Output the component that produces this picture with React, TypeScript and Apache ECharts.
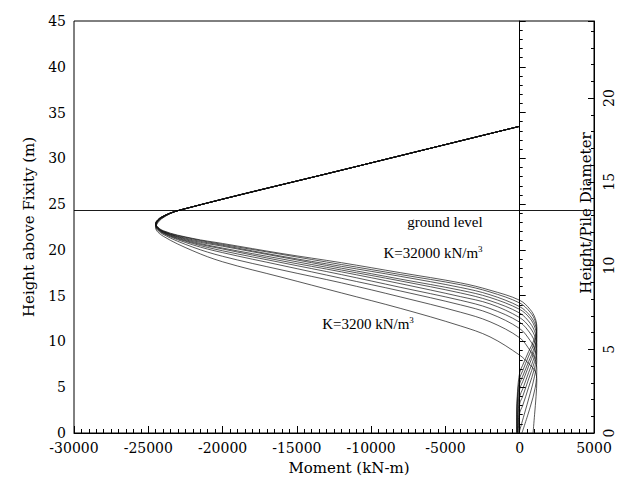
import React, { useEffect, useRef } from "react";
import * as echarts from "echarts";

// Above-ground part shared by all curves: [moment kN-m, height m]
const aboveGround: number[][] = [
  [0, 33.5],
  [-11435, 28.93],
  [-22870, 24.35],
];

// Below-ground parts, one per subgrade modulus (kN/m3)
const k32000: number[][] = [[-24100,23.6],[-24500,22.9],[-24000,22.1],[-22000,21.25],[-20000,20.7],[-16000,19.6],[-12000,18.6],[-8000,17.5],[-4000,16.4],[-2000,15.6],[0,14.5],[700,13.5],[1050,12.5],[1150,11.5],[1000,10.3],[600,8.9],[200,7.4],[0,6.6],[-150,4.5],[-200,2.0],[-200,0]];
const k28800: number[][] = [[-24100,23.6],[-24500,22.9],[-24000,22.05],[-22000,21.2],[-20000,20.6],[-16000,19.5],[-12000,18.4],[-8000,17.3],[-4000,16.2],[-2000,15.4],[0,14.2],[700,13.2],[1050,12.2],[1150,11.1],[1000,9.9],[600,8.4],[200,6.8],[0,6.0],[-150,4.0],[-200,1.8],[-200,0]];
const k25600: number[][] = [[-24100,23.6],[-24500,22.85],[-24000,22.0],[-22000,21.1],[-20000,20.5],[-16000,19.3],[-12000,18.2],[-8000,17.1],[-4000,15.9],[-2000,15.1],[0,13.8],[700,12.8],[1050,11.8],[1150,10.7],[1000,9.4],[600,7.8],[200,6.2],[0,5.4],[-150,3.4],[-180,1.5],[-180,0]];
const k22400: number[][] = [[-24100,23.6],[-24500,22.8],[-24000,22.0],[-22000,21.0],[-20000,20.4],[-16000,19.2],[-12000,18.0],[-8000,16.8],[-4000,15.6],[-2000,14.8],[0,13.5],[700,12.5],[1050,11.4],[1150,10.3],[1000,9.0],[600,7.3],[200,5.6],[0,4.8],[-120,2.8],[-160,1.2],[-160,0]];
const k19200: number[][] = [[-24100,23.55],[-24500,22.8],[-24000,21.95],[-22000,20.9],[-20000,20.2],[-16000,19.0],[-12000,17.8],[-8000,16.6],[-4000,15.3],[-2000,14.45],[0,13.1],[700,12.0],[1050,10.9],[1150,9.8],[1000,8.4],[600,6.6],[200,4.8],[0,4.0],[-100,2.2],[-150,0]];
const k16000: number[][] = [[-24100,23.55],[-24500,22.75],[-24000,21.9],[-22000,20.8],[-20000,20.1],[-16000,18.8],[-12000,17.6],[-8000,16.3],[-4000,14.9],[-2000,14.1],[0,12.6],[700,11.5],[1050,10.4],[1150,9.3],[1000,7.8],[600,5.9],[200,4.0],[0,3.2],[-120,0]];
const k12800: number[][] = [[-24100,23.5],[-24500,22.7],[-24000,21.85],[-22000,20.7],[-20000,19.9],[-16000,18.6],[-12000,17.3],[-8000,15.9],[-4000,14.5],[-2000,13.6],[0,12.1],[700,10.9],[1050,9.8],[1150,8.7],[1000,7.1],[600,5.0],[200,3.0],[0,2.2],[-100,0]];
const k9600: number[][] = [[-24100,23.5],[-24500,22.65],[-24000,21.8],[-22000,20.55],[-20000,19.7],[-16000,18.3],[-12000,16.9],[-8000,15.5],[-4000,14.0],[-2000,13.05],[0,11.4],[700,10.1],[1050,9.0],[1150,7.9],[1000,6.2],[700,4.3],[300,2.0],[-50,0]];
const k6400: number[][] = [[-24100,23.45],[-24500,22.55],[-24000,21.7],[-22000,20.3],[-20000,19.3],[-16000,17.8],[-12000,16.4],[-8000,14.85],[-4000,13.2],[-2000,12.15],[0,10.4],[700,9.0],[1050,8.0],[1150,6.9],[1050,5.0],[700,2.8],[150,0]];
const k3200: number[][] = [[-24100,23.4],[-24500,22.4],[-24000,21.5],[-22000,19.9],[-20000,18.7],[-16000,17.0],[-12000,15.3],[-8000,13.6],[-4000,11.7],[-2000,10.5],[0,8.5],[600,7.6],[1050,6.7],[1150,5.7],[1100,4.0],[1000,2.0],[900,0]];

const curveNames = ["K=32000","K=28800","K=25600","K=22400","K=19200","K=16000","K=12800","K=9600","K=6400","K=3200"];
const curves = [k32000,k28800,k25600,k22400,k19200,k16000,k12800,k9600,k6400,k3200];

const groundLevel = 24.35;
const xTicks = { min: -30000, max: 5000, interval: 5000 };
const yTicks = { min: 0, max: 45, interval: 5 };
const ratioTicks = { min: 0, max: 24.6, interval: 5 };

const FONT = "DejaVu Serif";

export default function App() {
  const ref = useRef<HTMLDivElement>(null);
  useEffect(() => {
    if (!ref.current) return;
    const chart = echarts.init(ref.current, undefined, { renderer: "svg" });
    const series: any[] = curves.map((c, i) => ({
      name: curveNames[i],
      type: "line",
      yAxisIndex: 0,
      data: aboveGround.concat(c),
      smooth: 0.35,
      symbol: "none",
      lineStyle: { color: "#111", width: 0.7 },
      z: 3,
    }));
    series[0].markLine = {
      silent: true,
      symbol: "none",
      label: { show: false },
      lineStyle: { color: "#000", width: 0.9, type: "solid" },
      data: [{ yAxis: groundLevel }, { xAxis: 0 }],
    };
    chart.setOption({
      animation: false,
      backgroundColor: "#fff",
      grid: { left: 74, right: 28, top: 21, bottom: 49, show: true, borderColor: "#000", borderWidth: 1 },
      xAxis: {
        type: "value",
        ...xTicks,
        axisLine: { show: true, lineStyle: { color: "#000" } },
        axisTick: { inside: true, length: 7, lineStyle: { color: "#000" } },
        minorTick: { show: true, splitNumber: 10, length: 4, lineStyle: { color: "#000" } },
        splitLine: { show: false },
        axisLabel: { formatter: (v: number) => String(v), color: "#000", fontFamily: FONT, fontSize: 14, margin: 8 },
        name: "Moment (kN-m)",
        nameLocation: "middle",
        nameGap: 27,
        nameTextStyle: { color: "#000", fontFamily: FONT, fontSize: 15, padding: [0, 0, 0, 30] },
      },
      yAxis: [
        {
          type: "value",
          ...yTicks,
          axisLine: { show: true, lineStyle: { color: "#000" } },
          axisTick: { inside: true, length: 6, lineStyle: { color: "#000" } },
          minorTick: { show: true, splitNumber: 5, length: 3, lineStyle: { color: "#000" } },
          splitLine: { show: false },
          axisLabel: { color: "#000", fontFamily: FONT, fontSize: 14, margin: 8 },
          name: "Height above Fixity (m)",
          nameLocation: "middle",
          nameGap: 38,
          nameTextStyle: { color: "#000", fontFamily: FONT, fontSize: 15 },
        },
        {
          type: "value",
          position: "right",
          ...ratioTicks,
          axisLine: { show: true, lineStyle: { color: "#000" } },
          axisTick: { inside: true, length: 6, lineStyle: { color: "#000" } },
          minorTick: { show: true, splitNumber: 5, length: 3, lineStyle: { color: "#000" } },
          splitLine: { show: false },
          axisLabel: {
            rotate: 90,
            color: "#000",
            fontFamily: FONT,
            fontSize: 14,
            margin: 8,
            formatter: (v: number) => (v % 5 === 0 ? String(v) : ""),
          },
        },
      ],
      graphic: [
        {
          type: "text",
          x: 586,
          y: 213,
          rotation: Math.PI / 2,
          style: { text: "Height/Pile Diameter", fill: "#000", font: `15px '${FONT}'`, align: "center", verticalAlign: "middle" },
        },
        {
          type: "text",
          x: 445,
          y: 222,
          style: { text: "ground level", fill: "#000", font: "15px 'Liberation Serif'", align: "center", verticalAlign: "middle" },
        },
        {
          type: "text",
          x: 433,
          y: 253,
          style: {
            text: "K=32000 kN/m{s|3}",
            fill: "#000",
            font: "15px 'Liberation Serif'",
            align: "center",
            verticalAlign: "middle",
            rich: { s: { fontSize: 9, fontFamily: "Liberation Serif", verticalAlign: "top", padding: [0, 0, 8, 0] } },
          },
        },
        {
          type: "text",
          x: 368,
          y: 324,
          style: {
            text: "K=3200 kN/m{s|3}",
            fill: "#000",
            font: "15px 'Liberation Serif'",
            align: "center",
            verticalAlign: "middle",
            rich: { s: { fontSize: 9, fontFamily: "Liberation Serif", verticalAlign: "top", padding: [0, 0, 8, 0] } },
          },
        },
      ],
      series,
    });
    return () => chart.dispose();
  }, []);
  return <div ref={ref} style={{ width: 622, height: 482, position: "absolute", left: 0, top: 0 }} />;
}
